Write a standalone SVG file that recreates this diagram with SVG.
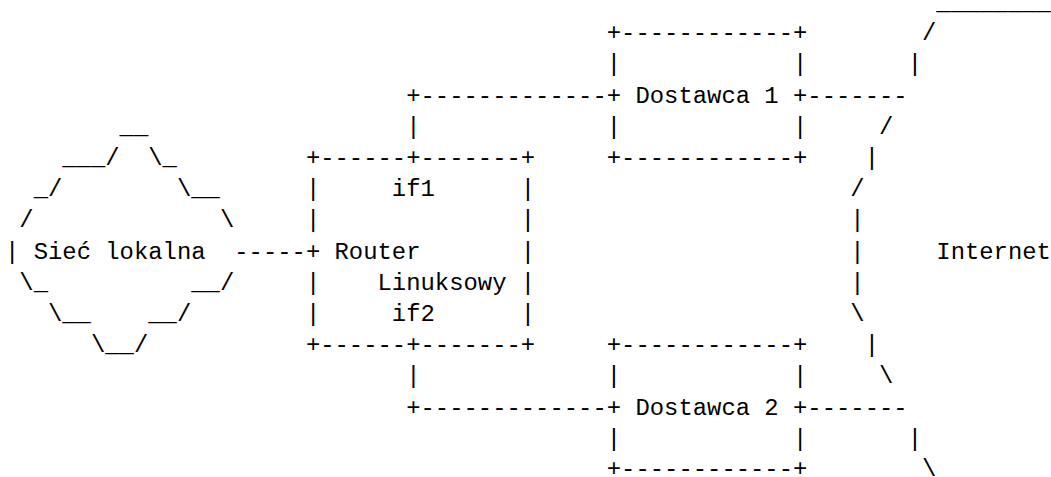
<svg xmlns="http://www.w3.org/2000/svg" width="1051" height="477" viewBox="0 0 1051 477">
  <style>
    /* monospaced grid: column c at x = 5 + 14.328c, row r at y = 9 + 31.2r */
    .t { font-family: "Liberation Mono", "Courier New", monospace; font-size: 23.88px; fill: #000; }
  </style>
  <rect width="1051" height="477" fill="#fff"/>

  <!-- local network cloud -->
  <g id="lan" class="t">
    <text x="119.62" y="133.8">__</text>
    <text x="62.31" y="165">___/</text>
    <text x="148.28" y="165">\_</text>
    <text x="33.66" y="196.2">_/</text>
    <text x="176.94" y="196.2">\__</text>
    <text x="19.33" y="227.4">/</text>
    <text x="219.92" y="227.4">\</text>
    <text x="5" y="258.6">| Sieć lokalna</text>
    <text x="19.33" y="289.8">\_</text>
    <text x="191.26" y="289.8">__/</text>
    <text x="47.98" y="321">\__</text>
    <text x="148.28" y="321">__/</text>
    <text x="90.97" y="352.2">\__/</text>
  </g>

  <!-- Linux router with two interfaces -->
  <g id="router" class="t">
    <text x="305.89" y="165">+------+-------+</text>
    <text x="305.89" y="196.2">|</text>
    <text x="391.86" y="196.2">if1</text>
    <text x="520.81" y="196.2">|</text>
    <text x="305.89" y="227.4">|</text>
    <text x="520.81" y="227.4">|</text>
    <text x="305.89" y="258.6">+ Router</text>
    <text x="520.81" y="258.6">|</text>
    <text x="305.89" y="289.8">|</text>
    <text x="377.53" y="289.8">Linuksowy</text>
    <text x="520.81" y="289.8">|</text>
    <text x="305.89" y="321">|</text>
    <text x="391.86" y="321">if2</text>
    <text x="520.81" y="321">|</text>
    <text x="305.89" y="352.2">+------+-------+</text>
  </g>

  <!-- provider 1 -->
  <g id="provider1" class="t">
    <text x="606.78" y="40.2">+------------+</text>
    <text x="606.78" y="71.4">|</text>
    <text x="793.04" y="71.4">|</text>
    <text x="606.78" y="102.6">+ Dostawca 1 +</text>
    <text x="606.78" y="133.8">|</text>
    <text x="793.04" y="133.8">|</text>
    <text x="606.78" y="165">+------------+</text>
  </g>

  <!-- provider 2 -->
  <g id="provider2" class="t">
    <text x="606.78" y="352.2">+------------+</text>
    <text x="606.78" y="383.4">|</text>
    <text x="793.04" y="383.4">|</text>
    <text x="606.78" y="414.6">+ Dostawca 2 +</text>
    <text x="606.78" y="445.8">|</text>
    <text x="793.04" y="445.8">|</text>
    <text x="606.78" y="476">+------------+</text>
  </g>

  <!-- internet cloud -->
  <g id="internet" class="t">
    <text x="936.32" y="10">________</text>
    <text x="921.99" y="40.2">/</text>
    <text x="907.66" y="71.4">|</text>
    <text x="879.01" y="133.8">/</text>
    <text x="864.68" y="165">|</text>
    <text x="850.35" y="196.2">/</text>
    <text x="850.35" y="227.4">|</text>
    <text x="850.35" y="258.6">|</text>
    <text x="936.32" y="258.6">Internet</text>
    <text x="850.35" y="289.8">|</text>
    <text x="850.35" y="321">\</text>
    <text x="864.68" y="352.2">|</text>
    <text x="879.01" y="383.4">\</text>
    <text x="907.66" y="445.8">|</text>
    <text x="921.99" y="476">\</text>
  </g>

  <!-- links -->
  <g id="connectors" class="t">
    <text x="234.25" y="258.6">-----</text>
    <text x="406.18" y="102.6">+-------------</text>
    <text x="406.18" y="133.8">|</text>
    <text x="406.18" y="383.4">|</text>
    <text x="406.18" y="414.6">+-------------</text>
    <text x="807.37" y="102.6">-------</text>
    <text x="807.37" y="414.6">-------</text>
  </g>
</svg>
